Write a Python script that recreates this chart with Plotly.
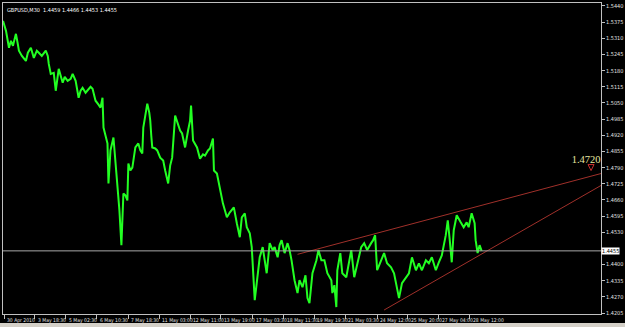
import plotly.graph_objects as go

# ---- data ----
bar_x = [2, 5, 8, 10, 12, 15, 17, 18, 21, 25, 27, 30, 33, 36, 38, 41, 45, 47, 48, 50,
         53, 55, 58, 60, 62, 64, 67, 70, 72, 75, 78, 80, 82, 85, 87, 90, 92, 95, 98, 100,
         102, 103, 105, 107, 108, 109, 110, 113, 115, 118, 119, 121, 122, 123, 125, 127, 128, 130, 132, 135,
         138, 140, 142, 143, 145, 147, 149, 150, 151, 152, 155, 157, 160,
         163, 165, 168, 170, 172, 175, 178, 180, 182, 185, 188, 190, 191, 192, 193, 197, 200,
         203, 205, 208, 210, 213, 214, 217, 220, 223, 225, 227, 230, 232, 234, 237, 240, 242, 245,
         247, 250, 252, 253, 255, 257, 260, 263, 265, 267, 270, 273, 275, 278, 280, 282, 285, 288,
         290, 292, 295, 298, 300, 303, 306, 308, 310,
         313, 317, 319, 322, 325, 328, 332, 333, 335, 337, 338, 341, 343, 347, 350, 352, 355, 358,
         362, 365, 368, 372, 374, 376, 378, 380, 382, 385, 388, 392, 395, 398, 400, 403, 407, 410,
         413, 417, 420, 423, 427, 430, 433, 437, 440, 443, 447, 449, 451, 452, 453, 455, 458, 462,
         465, 468, 470, 473, 476, 477, 479, 481, 482, 483]

close = [1.5380, 1.5340, 1.5272, 1.5300, 1.5280, 1.5328, 1.5284, 1.5260, 1.5239, 1.5219,
         1.5252, 1.5272, 1.5231, 1.5260, 1.5252, 1.5239, 1.5260, 1.5239, 1.5207, 1.5167,
         1.5171, 1.5099, 1.5187, 1.5159, 1.5131, 1.5155, 1.5139, 1.5147, 1.5167, 1.5139,
         1.5071, 1.5099, 1.5111, 1.5091, 1.5099, 1.5115, 1.5107, 1.5059, 1.5043, 1.5031,
         1.5071, 1.4951, 1.4919, 1.4887, 1.4726, 1.4818, 1.4859, 1.4911, 1.4806, 1.4686,
         1.4618, 1.4478, 1.4638, 1.4686, 1.4678, 1.4658, 1.4806, 1.4778, 1.4790, 1.4871,
         1.4887, 1.4859, 1.4847, 1.4951, 1.4999, 1.5047, 1.5011, 1.4979, 1.4919, 1.4871,
         1.4867, 1.4859, 1.4830,
         1.4818, 1.4778, 1.4726, 1.4798, 1.4830, 1.4999, 1.4967, 1.4939, 1.4927, 1.4871,
         1.4939, 1.4979, 1.5039, 1.4959, 1.4899, 1.4871, 1.4826,
         1.4843, 1.4838, 1.4859, 1.4867, 1.4907, 1.4778, 1.4766, 1.4698, 1.4646, 1.4618,
         1.4590, 1.4610, 1.4618, 1.4630, 1.4566, 1.4510, 1.4590, 1.4606,
         1.4550, 1.4526, 1.4470, 1.4389, 1.4257, 1.4325, 1.4429, 1.4470, 1.4409, 1.4365,
         1.4486, 1.4458, 1.4470, 1.4429, 1.4478, 1.4498, 1.4446, 1.4486,
         1.4458, 1.4417, 1.4337, 1.4285, 1.4337, 1.4309, 1.4357, 1.4265, 1.4245,
         1.4365, 1.4417, 1.4458, 1.4417, 1.4417, 1.4365, 1.4337, 1.4285, 1.4317, 1.4229,
         1.4377, 1.4446, 1.4365, 1.4349, 1.4417, 1.4458, 1.4349, 1.4405,
         1.4470, 1.4486, 1.4458, 1.4486, 1.4498, 1.4518, 1.4377, 1.4397, 1.4417, 1.4446,
         1.4405, 1.4389, 1.4365, 1.4297, 1.4265, 1.4325, 1.4349, 1.4365,
         1.4429, 1.4377, 1.4405, 1.4377, 1.4417, 1.4405, 1.4429, 1.4377, 1.4409, 1.4437,
         1.4518, 1.4578, 1.4498, 1.4458, 1.4409, 1.4538, 1.4598, 1.4570,
         1.4550, 1.4570, 1.4550, 1.4606, 1.4566, 1.4498, 1.4446, 1.4478, 1.4466, 1.4455]

upper_x = [298, 603]
upper_y = [1.4441, 1.4766]
lower_x = [385, 603]
lower_y = [1.4217, 1.4718]

current_price = 1.4455
label_price_text = "1.4720"
label_x = [588]
label_y = [1.4818]
arrow_x = [593]
arrow_y = [1.4778]

y_ticks = [1.5440, 1.5375, 1.5310, 1.5245, 1.5180, 1.5115, 1.5050, 1.4985, 1.4920, 1.4855,
           1.4790, 1.4725, 1.4660, 1.4595, 1.4530, 1.4465, 1.4400, 1.4335, 1.4270, 1.4205]
x_tick_pos = [3, 34, 65, 96, 128, 159, 190, 221, 253, 284, 315, 346, 378, 409, 440, 471]
x_tick_text = ["30 Apr 2010", "3 May 18:30", "5 May 02:30", "6 May 10:30", "7 May 18:30",
               "11 May 03:00", "12 May 11:00", "13 May 19:00", "17 May 03:30", "18 May 11:30",
               "19 May 19:30", "21 May 03:30", "24 May 12:00", "25 May 20:00", "27 May 04:00",
               "28 May 12:00"]
title_text = "GBPUSD,M30  1.4459 1.4466 1.4453 1.4455"

FONT = "DejaVu Sans Condensed, Liberation Sans"
GRAY = "#c0c0c0"
RED = "#a0302a"

fig = go.Figure()
fig.add_trace(go.Scatter(x=upper_x, y=upper_y, mode="lines",
                         line=dict(color=RED, width=1), hoverinfo="skip"))
fig.add_trace(go.Scatter(x=lower_x, y=lower_y, mode="lines",
                         line=dict(color=RED, width=1), hoverinfo="skip"))
fig.add_trace(go.Scatter(x=bar_x, y=close, mode="lines",
                         line=dict(color="#22ff22", width=2)))
fig.add_trace(go.Scatter(x=arrow_x, y=arrow_y, mode="markers",
                         marker=dict(symbol="arrow-down-open", size=6,
                                     color="#c83030", line=dict(color="#c83030", width=1))))
fig.add_trace(go.Scatter(x=label_x, y=label_y, mode="text", text=[label_price_text],
                         textfont=dict(family="Liberation Serif", size=10.5, color="#e6e6a0")))

# current price line
fig.add_shape(type="line", xref="paper", x0=0, x1=1, yref="y",
              y0=current_price, y1=current_price, line=dict(color="#a8a8a8", width=1))
# bottom tab strip
fig.add_shape(type="rect", xref="paper", yref="paper", x0=-0.01, x1=1.05, y0=-0.06, y1=-0.029,
              fillcolor="#d4d0c8", line=dict(width=0), layer="above")

annotations = [
    dict(text=title_text, xref="paper", yref="paper", x=0.003, y=0.995, xanchor="left",
         yanchor="top", showarrow=False, font=dict(family=FONT, size=5.5, color="#ffffff")),
    dict(text="1.4455", xref="paper", yref="y", x=1.0, y=current_price, xanchor="left",
         yanchor="middle", showarrow=False, bgcolor="#ffffff", borderpad=0,
         font=dict(family=FONT, size=5.5, color="#000000")),
]
for pos, txt in zip(x_tick_pos, x_tick_text):
    annotations.append(dict(text=txt, x=pos + 1, xref="x", yref="paper", y=-0.003,
                            xanchor="left", yanchor="top", showarrow=False,
                            font=dict(family=FONT, size=5, color="#e0e0e0")))

# the 1.4465 tick label sits under the current-price box
y_tick_text = ["" if abs(v - 1.4465) < 1e-9 else f"{v:.4f}" for v in y_ticks]

fig.update_layout(
    width=625, height=327,
    margin=dict(l=2, r=22, t=2, b=13),
    paper_bgcolor="#000000", plot_bgcolor="#000000",
    showlegend=False,
    annotations=annotations,
    xaxis=dict(range=[2, 603], showgrid=False, zeroline=False, showline=True, mirror=True,
               linecolor=GRAY, linewidth=1, tickvals=x_tick_pos, showticklabels=False,
               ticks="outside", ticklen=4, tickcolor=GRAY),
    yaxis=dict(range=[1.4201, 1.5452], side="right", showgrid=False, zeroline=False,
               showline=True, mirror=True, linecolor=GRAY, linewidth=1,
               tickvals=y_ticks, ticktext=y_tick_text,
               ticks="outside", ticklen=3, tickcolor=GRAY,
               tickfont=dict(family=FONT, size=5.5, color="#e0e0e0")),
)

fig.write_html("out.html")
